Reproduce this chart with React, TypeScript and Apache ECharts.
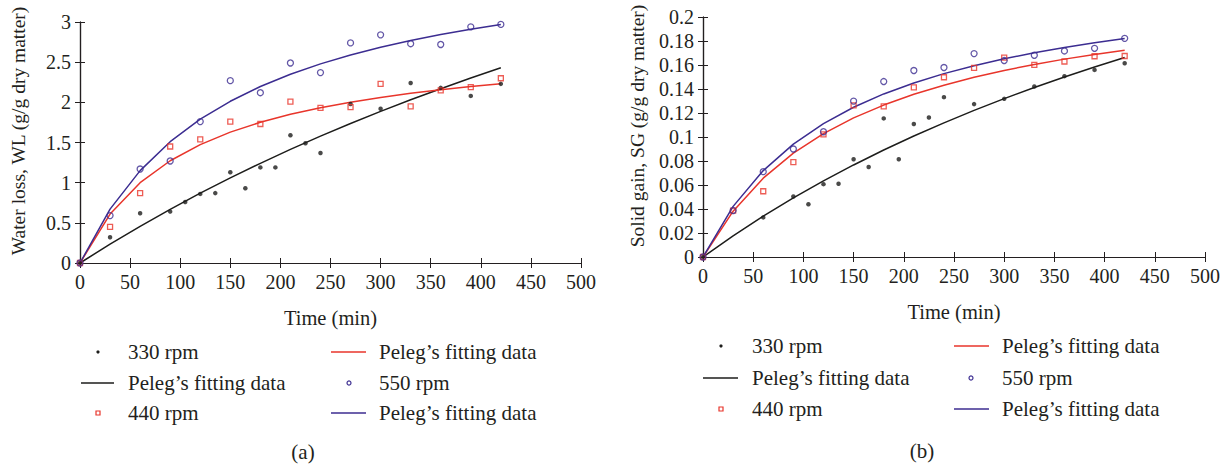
import React, { useEffect, useRef } from "react";
import * as echarts from "echarts";

// ---------- data ----------
const fitTimes = [0, 30, 60, 90, 120, 150, 180, 210, 240, 270, 300, 330, 360, 390, 420];

// (a) Water loss
const wlTimes330 = [0, 30, 60, 90, 105, 120, 135, 150, 165, 180, 195, 210, 225, 240, 270, 300, 330, 360, 390, 420];
const wl330 = [0, 0.32, 0.62, 0.64, 0.76, 0.86, 0.87, 1.13, 0.93, 1.19, 1.19, 1.59, 1.49, 1.37, 1.98, 1.92, 2.24, 2.18, 2.08, 2.23];
const wlTimes440 = [0, 30, 60, 90, 120, 150, 180, 210, 240, 270, 300, 330, 360, 390, 420];
const wl440 = [0, 0.45, 0.87, 1.45, 1.54, 1.76, 1.73, 2.01, 1.93, 1.94, 2.23, 1.95, 2.15, 2.19, 2.3];
const wlTimes550 = [0, 30, 60, 90, 120, 150, 180, 210, 240, 270, 300, 330, 360, 390, 420];
const wl550 = [0, 0.59, 1.17, 1.27, 1.76, 2.27, 2.12, 2.49, 2.37, 2.74, 2.84, 2.73, 2.72, 2.94, 2.97];
const wlFit330 = [0, 0.235, 0.457, 0.668, 0.869, 1.059, 1.241, 1.414, 1.579, 1.736, 1.887, 2.032, 2.17, 2.303, 2.431];
const wlFit440 = [0, 0.609, 1.0, 1.273, 1.474, 1.629, 1.751, 1.851, 1.933, 2.002, 2.061, 2.112, 2.157, 2.196, 2.23];
const wlFit550 = [0, 0.671, 1.15, 1.51, 1.79, 2.013, 2.197, 2.35, 2.479, 2.59, 2.686, 2.771, 2.845, 2.911, 2.97];

// (b) Solid gain
const sgTimes330 = [0, 60, 90, 105, 120, 135, 150, 165, 180, 195, 210, 225, 240, 270, 300, 330, 360, 390, 420];
const sg330 = [0, 0.033, 0.0504, 0.044, 0.0607, 0.061, 0.0814, 0.075, 0.1155, 0.0814, 0.1108, 0.1163, 0.1332, 0.1274, 0.1318, 0.1421, 0.1507, 0.1559, 0.1615];
const sgTimes440 = [0, 30, 60, 90, 120, 150, 180, 210, 240, 270, 300, 330, 360, 390, 420];
const sg440 = [0, 0.0387, 0.0548, 0.079, 0.1022, 0.1263, 0.1255, 0.1413, 0.1498, 0.1576, 0.1662, 0.1601, 0.1629, 0.1673, 0.1675];
const sgTimes550 = [0, 30, 60, 90, 120, 150, 180, 210, 240, 270, 300, 330, 360, 390, 420];
const sg550 = [0, 0.0387, 0.0711, 0.09, 0.1044, 0.1299, 0.1462, 0.1554, 0.1579, 0.1695, 0.1637, 0.1681, 0.1717, 0.1739, 0.1822];
const sgFit330 = [0, 0.0176, 0.034, 0.0492, 0.0634, 0.0767, 0.0892, 0.1008, 0.1118, 0.1222, 0.132, 0.1412, 0.15, 0.1583, 0.1662];
const sgFit440 = [0, 0.0382, 0.0657, 0.0865, 0.1028, 0.1159, 0.1266, 0.1356, 0.1432, 0.1498, 0.1555, 0.1605, 0.1649, 0.1688, 0.1723];
const sgFit550 = [0, 0.0422, 0.072, 0.0941, 0.1112, 0.1248, 0.1359, 0.145, 0.1528, 0.1594, 0.1652, 0.1702, 0.1746, 0.1785, 0.182];

const legendLabels = ["330 rpm", "Peleg’s fitting data", "440 rpm", "Peleg’s fitting data", "550 rpm", "Peleg’s fitting data"];
const xTitle = "Time (min)";
const yTitleA = "Water loss, WL (g/g dry matter)";
const yTitleB = "Solid gain, SG (g/g dry matter)";
const captions = ["(a)", "(b)"];

// ---------- styles ----------
const FONT = "'Liberation Serif', 'DejaVu Serif', serif";
const INK = "#231f20";
const BLACK = "#1d1d1b";
const RED = "#e8352b";
const BLUE = "#3c2d91";

const pairs = (ts: number[], vs: number[]) => ts.map((t, i) => [t, vs[i]]);

function axesFor(grid: number, yMax: number, yInt: number) {
  const common = {
    type: "value" as const,
    gridIndex: grid,
    splitLine: { show: false },
    axisLine: { show: true, lineStyle: { color: INK, width: 1.2 } },
    axisTick: { show: true, inside: true, length: 5, lineStyle: { color: INK, width: 1 } },
  };
  const label = { fontFamily: FONT, fontSize: 20, color: INK };
  const x = [
    {
      ...common,
      min: 0,
      max: 500,
      interval: 50,
      position: "bottom",
      axisLabel: { ...label, margin: 9 },
      name: xTitle,
      nameLocation: "middle",
      nameGap: 44,
      nameTextStyle: { fontFamily: FONT, fontSize: 20.5, color: INK },
    },
    { ...common, min: 0, max: 500, interval: 50, position: "top", axisLabel: { show: false } },
  ];
  const y = [
    { ...common, min: 0, max: yMax, interval: yInt, position: "left", axisLabel: { ...label, margin: 9 } },
    { ...common, min: 0, max: yMax, interval: yInt, position: "right", axisLabel: { show: false } },
  ];
  return { x, y };
}

function seriesFor(
  axis: number,
  t330: number[], v330: number[], t440: number[], v440: number[], t550: number[], v550: number[],
  f330: number[], f440: number[], f550: number[]
) {
  const line = (name: string, vals: number[], color: string) => ({
    type: "line",
    name,
    xAxisIndex: axis,
    yAxisIndex: axis,
    data: pairs(fitTimes, vals),
    symbol: "none",
    lineStyle: { color, width: 1.5 },
    z: 2,
  });
  return [
    line("Peleg 330", f330, BLACK),
    line("Peleg 440", f440, RED),
    line("Peleg 550", f550, BLUE),
    {
      type: "scatter", name: "330 rpm", xAxisIndex: axis, yAxisIndex: axis,
      data: pairs(t330, v330), symbol: "circle", symbolSize: 4.5,
      itemStyle: { color: BLACK }, z: 3,
    },
    {
      type: "scatter", name: "440 rpm", xAxisIndex: axis, yAxisIndex: axis,
      data: pairs(t440, v440), symbol: "rect", symbolSize: 5,
      itemStyle: { color: "rgba(255,255,255,0)", borderColor: RED, borderWidth: 1.3 }, z: 3,
    },
    {
      type: "scatter", name: "550 rpm", xAxisIndex: axis, yAxisIndex: axis,
      data: pairs(t550, v550), symbol: "circle", symbolSize: 6,
      itemStyle: { color: "rgba(255,255,255,0)", borderColor: BLUE, borderWidth: 1.3 }, z: 3,
    },
  ];
}

function legendGraphics(
  lineX1: number, lineX2: number, dotX: number, textX: number,
  line2X1: number, line2X2: number, dot2X: number, text2X: number,
  rows: number[], capX: number, capY: number, caption: string
) {
  const txt = (x: number, y: number, s: string) => ({
    type: "text", x, y,
    style: { text: s, fontFamily: FONT, fontSize: 21, fill: INK, align: "left", verticalAlign: "middle" },
  });
  const ln = (x1: number, x2: number, y: number, c: string) => ({
    type: "line", shape: { x1, y1: y, x2, y2: y }, style: { stroke: c, lineWidth: 1.5 },
  });
  return [
    { type: "circle", shape: { cx: dotX, cy: rows[0], r: 1.6 }, style: { fill: BLACK } },
    txt(textX, rows[0], legendLabels[0]),
    ln(lineX1, lineX2, rows[1], BLACK),
    txt(textX, rows[1], legendLabels[1]),
    { type: "rect", shape: { x: dotX - 2, y: rows[2] - 2, width: 4, height: 4 }, style: { fill: "none", stroke: RED, lineWidth: 1.2 } },
    txt(textX, rows[2], legendLabels[2]),
    ln(line2X1, line2X2, rows[0], RED),
    txt(text2X, rows[0], legendLabels[3]),
    { type: "circle", shape: { cx: dot2X, cy: rows[1], r: 2 }, style: { fill: "none", stroke: BLUE, lineWidth: 1.2 } },
    txt(text2X, rows[1], legendLabels[4]),
    ln(line2X1, line2X2, rows[2], BLUE),
    txt(text2X, rows[2], legendLabels[5]),
    {
      type: "text", x: capX, y: capY,
      style: { text: caption, fontFamily: FONT, fontSize: 21, fill: INK, align: "center", verticalAlign: "middle" },
    },
  ];
}

export default function App() {
  const ref = useRef<HTMLDivElement>(null);
  useEffect(() => {
    document.body.style.margin = "0";
    if (!ref.current) return;
    const chart = echarts.init(ref.current, undefined, { renderer: "svg" });
    const a = axesFor(0, 3, 0.5);
    const b = axesFor(1, 0.2, 0.02);
    const yTitle = (x: number, y: number, s: string) => ({
      type: "text", x, y, rotation: Math.PI / 2,
      style: { text: s, fontFamily: FONT, fontSize: 19.5, fill: INK, align: "center", verticalAlign: "middle" },
    });
    chart.setOption({
      animation: false,
      backgroundColor: "#ffffff",
      grid: [
        { left: 80, top: 22, width: 501, height: 241 },
        { left: 703, top: 17, width: 502, height: 240 },
      ],
      xAxis: [...a.x, ...b.x],
      yAxis: [...a.y, ...b.y],
      series: [
        ...seriesFor(0, wlTimes330, wl330, wlTimes440, wl440, wlTimes550, wl550, wlFit330, wlFit440, wlFit550),
        ...seriesFor(2, sgTimes330, sg330, sgTimes440, sg440, sgTimes550, sg550, sgFit330, sgFit440, sgFit550),
      ],
      graphic: [
        yTitle(18, 131, yTitleA),
        yTitle(637, 126, yTitleB),
        ...legendGraphics(81, 114, 98, 128, 331, 366, 349, 379, [352, 383, 413], 303, 452, captions[0]),
        ...legendGraphics(703, 738, 721, 752, 954, 989, 971, 1002, [346, 378, 409], 922, 451, captions[1]),
      ],
    });
    return () => chart.dispose();
  }, []);
  return <div ref={ref} style={{ width: 1228, height: 466 }} />;
}
